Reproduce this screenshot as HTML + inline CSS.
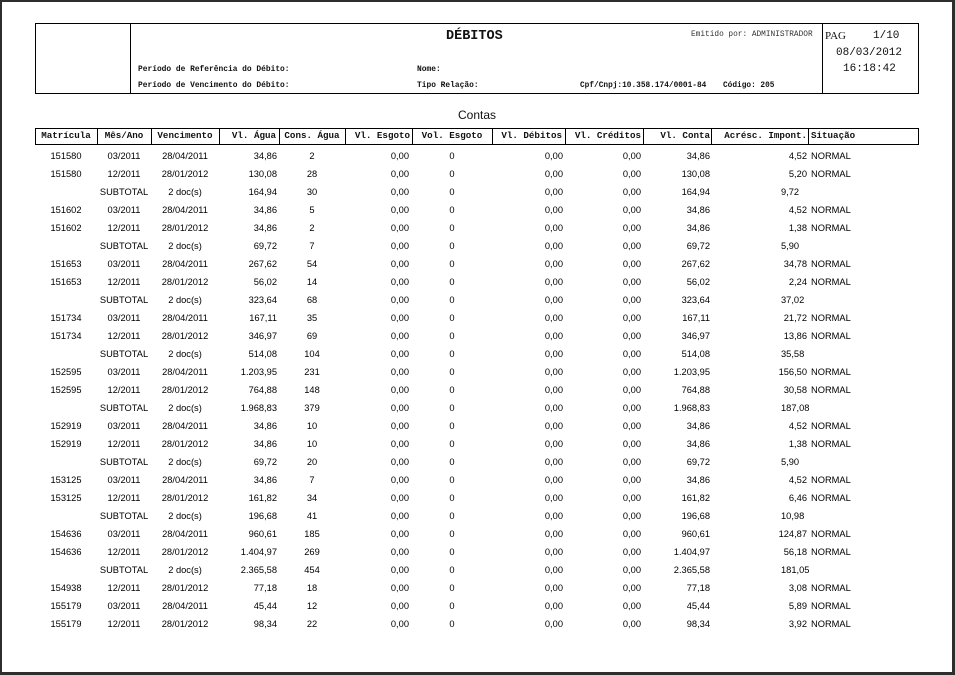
<!DOCTYPE html>
<html><head><meta charset="utf-8">
<style>
html,body{margin:0;padding:0}
body{width:955px;height:675px;background:#2e2e2e;position:relative;overflow:hidden}
#pg{position:absolute;left:2px;top:2px;width:950px;height:670px;background:#fff}
.a{position:absolute;white-space:nowrap;line-height:12px;height:12px}
.m{font-family:"Liberation Mono",monospace;color:#111}
.b{font-weight:bold}
.ln{position:absolute;background:#000}
.r{position:absolute;left:0;width:955px;height:18px;line-height:18px;font-family:"Liberation Sans",sans-serif;font-size:9.3px;color:#000}
.r span{position:absolute;top:0;white-space:nowrap}
.h{position:absolute;left:0;width:955px;height:16px;line-height:16px;top:128px;font-family:"Liberation Mono",monospace;font-weight:bold;font-size:9.2px;color:#111}
.h span{position:absolute;top:0;white-space:nowrap}
.c1{left:35px;width:62px;text-align:center}
.c2{left:97px;width:54px;text-align:center}
.c3{left:151px;width:68px;text-align:center}
.c4{left:219px;width:58px;text-align:right}
.c5{left:279px;width:66px;text-align:center}
.c6{left:345px;width:64px;text-align:right}
.c7{left:412px;width:80px;text-align:center}
.c8{left:492px;width:71px;text-align:right}
.c9{left:565px;width:76px;text-align:right}
.c10{left:643px;width:67px;text-align:right}
.c11{left:711px;width:96px;text-align:right}
.c11s{left:781px}
.c12{left:811px}
</style></head><body>
<div id="pg"></div>

<!-- header box -->
<div class="ln" style="left:35px;top:23px;width:884px;height:1px"></div>
<div class="ln" style="left:35px;top:93px;width:884px;height:1px"></div>
<div class="ln" style="left:35px;top:23px;width:1px;height:71px"></div>
<div class="ln" style="left:918px;top:23px;width:1px;height:71px"></div>
<div class="ln" style="left:130px;top:23px;width:1px;height:71px"></div>
<div class="ln" style="left:822px;top:23px;width:1px;height:71px"></div>

<div class="a m b" style="left:446px;top:30px;font-size:13.5px;line-height:14px;height:14px">DÉBITOS</div>
<div class="a m" style="left:691px;top:29px;font-size:7.8px;color:#333">Emitido por: ADMINISTRADOR</div>
<div class="a m b" style="left:138px;top:64px;font-size:7.9px">Período de Referência do Débito:</div>
<div class="a m b" style="left:138px;top:80px;font-size:7.9px">Período de Vencimento do Débito:</div>
<div class="a m b" style="left:417px;top:64px;font-size:7.9px">Nome:</div>
<div class="a m b" style="left:417px;top:80px;font-size:7.9px">Tipo Relação:</div>
<div class="a m b" style="left:580px;top:80px;font-size:7.8px">Cpf/Cnpj:10.358.174/0001-84</div>
<div class="a m b" style="left:723px;top:80px;font-size:7.8px">Código: 205</div>
<div class="a" style="left:825px;top:30px;font-family:'Liberation Serif',serif;font-size:11px;color:#111">PAG</div>
<div class="a m" style="left:873px;top:30px;font-size:11px">1/10</div>
<div class="a m" style="left:836px;top:47px;font-size:11px">08/03/2012</div>
<div class="a m" style="left:843px;top:63px;font-size:11px">16:18:42</div>

<div class="a" style="left:458px;top:109px;font-family:'Liberation Sans',sans-serif;font-size:12px;color:#111">Contas</div>

<!-- table header -->
<div class="ln" style="left:35px;top:128px;width:884px;height:1px"></div>
<div class="ln" style="left:35px;top:144px;width:884px;height:1px"></div>
<div class="ln" style="left:35px;top:128px;width:1px;height:17px"></div>
<div class="ln" style="left:97px;top:128px;width:1px;height:17px"></div>
<div class="ln" style="left:151px;top:128px;width:1px;height:17px"></div>
<div class="ln" style="left:219px;top:128px;width:1px;height:17px"></div>
<div class="ln" style="left:279px;top:128px;width:1px;height:17px"></div>
<div class="ln" style="left:345px;top:128px;width:1px;height:17px"></div>
<div class="ln" style="left:412px;top:128px;width:1px;height:17px"></div>
<div class="ln" style="left:492px;top:128px;width:1px;height:17px"></div>
<div class="ln" style="left:565px;top:128px;width:1px;height:17px"></div>
<div class="ln" style="left:643px;top:128px;width:1px;height:17px"></div>
<div class="ln" style="left:711px;top:128px;width:1px;height:17px"></div>
<div class="ln" style="left:808px;top:128px;width:1px;height:17px"></div>
<div class="ln" style="left:918px;top:128px;width:1px;height:17px"></div>

<div class="h">
<span class="c1">Matrícula</span><span class="c2">Mês/Ano</span><span class="c3">Vencimento</span>
<span style="left:219px;width:57px;text-align:right">Vl. Água</span>
<span class="c5">Cons. Água</span>
<span style="left:345px;width:65px;text-align:right">Vl. Esgoto</span>
<span class="c7">Vol. Esgoto</span>
<span style="left:492px;width:70px;text-align:right">Vl. Débitos</span>
<span class="c9">Vl. Créditos</span>
<span class="c10">Vl. Conta</span>
<span class="c11">Acrésc. Impont.</span>
<span class="c12">Situação</span>
</div>

<div class="r" style="top:147px"><span class="c1">151580</span><span class="c2">03/2011</span><span class="c3">28/04/2011</span><span class="c4">34,86</span><span class="c5">2</span><span class="c6">0,00</span><span class="c7">0</span><span class="c8">0,00</span><span class="c9">0,00</span><span class="c10">34,86</span><span class="c11">4,52</span><span class="c12">NORMAL</span></div>
<div class="r" style="top:165px"><span class="c1">151580</span><span class="c2">12/2011</span><span class="c3">28/01/2012</span><span class="c4">130,08</span><span class="c5">28</span><span class="c6">0,00</span><span class="c7">0</span><span class="c8">0,00</span><span class="c9">0,00</span><span class="c10">130,08</span><span class="c11">5,20</span><span class="c12">NORMAL</span></div>
<div class="r" style="top:183px"><span class="c2">SUBTOTAL</span><span class="c3">2 doc(s)</span><span class="c4">164,94</span><span class="c5">30</span><span class="c6">0,00</span><span class="c7">0</span><span class="c8">0,00</span><span class="c9">0,00</span><span class="c10">164,94</span><span class="c11s">9,72</span></div>
<div class="r" style="top:201px"><span class="c1">151602</span><span class="c2">03/2011</span><span class="c3">28/04/2011</span><span class="c4">34,86</span><span class="c5">5</span><span class="c6">0,00</span><span class="c7">0</span><span class="c8">0,00</span><span class="c9">0,00</span><span class="c10">34,86</span><span class="c11">4,52</span><span class="c12">NORMAL</span></div>
<div class="r" style="top:219px"><span class="c1">151602</span><span class="c2">12/2011</span><span class="c3">28/01/2012</span><span class="c4">34,86</span><span class="c5">2</span><span class="c6">0,00</span><span class="c7">0</span><span class="c8">0,00</span><span class="c9">0,00</span><span class="c10">34,86</span><span class="c11">1,38</span><span class="c12">NORMAL</span></div>
<div class="r" style="top:237px"><span class="c2">SUBTOTAL</span><span class="c3">2 doc(s)</span><span class="c4">69,72</span><span class="c5">7</span><span class="c6">0,00</span><span class="c7">0</span><span class="c8">0,00</span><span class="c9">0,00</span><span class="c10">69,72</span><span class="c11s">5,90</span></div>
<div class="r" style="top:255px"><span class="c1">151653</span><span class="c2">03/2011</span><span class="c3">28/04/2011</span><span class="c4">267,62</span><span class="c5">54</span><span class="c6">0,00</span><span class="c7">0</span><span class="c8">0,00</span><span class="c9">0,00</span><span class="c10">267,62</span><span class="c11">34,78</span><span class="c12">NORMAL</span></div>
<div class="r" style="top:273px"><span class="c1">151653</span><span class="c2">12/2011</span><span class="c3">28/01/2012</span><span class="c4">56,02</span><span class="c5">14</span><span class="c6">0,00</span><span class="c7">0</span><span class="c8">0,00</span><span class="c9">0,00</span><span class="c10">56,02</span><span class="c11">2,24</span><span class="c12">NORMAL</span></div>
<div class="r" style="top:291px"><span class="c2">SUBTOTAL</span><span class="c3">2 doc(s)</span><span class="c4">323,64</span><span class="c5">68</span><span class="c6">0,00</span><span class="c7">0</span><span class="c8">0,00</span><span class="c9">0,00</span><span class="c10">323,64</span><span class="c11s">37,02</span></div>
<div class="r" style="top:309px"><span class="c1">151734</span><span class="c2">03/2011</span><span class="c3">28/04/2011</span><span class="c4">167,11</span><span class="c5">35</span><span class="c6">0,00</span><span class="c7">0</span><span class="c8">0,00</span><span class="c9">0,00</span><span class="c10">167,11</span><span class="c11">21,72</span><span class="c12">NORMAL</span></div>
<div class="r" style="top:327px"><span class="c1">151734</span><span class="c2">12/2011</span><span class="c3">28/01/2012</span><span class="c4">346,97</span><span class="c5">69</span><span class="c6">0,00</span><span class="c7">0</span><span class="c8">0,00</span><span class="c9">0,00</span><span class="c10">346,97</span><span class="c11">13,86</span><span class="c12">NORMAL</span></div>
<div class="r" style="top:345px"><span class="c2">SUBTOTAL</span><span class="c3">2 doc(s)</span><span class="c4">514,08</span><span class="c5">104</span><span class="c6">0,00</span><span class="c7">0</span><span class="c8">0,00</span><span class="c9">0,00</span><span class="c10">514,08</span><span class="c11s">35,58</span></div>
<div class="r" style="top:363px"><span class="c1">152595</span><span class="c2">03/2011</span><span class="c3">28/04/2011</span><span class="c4">1.203,95</span><span class="c5">231</span><span class="c6">0,00</span><span class="c7">0</span><span class="c8">0,00</span><span class="c9">0,00</span><span class="c10">1.203,95</span><span class="c11">156,50</span><span class="c12">NORMAL</span></div>
<div class="r" style="top:381px"><span class="c1">152595</span><span class="c2">12/2011</span><span class="c3">28/01/2012</span><span class="c4">764,88</span><span class="c5">148</span><span class="c6">0,00</span><span class="c7">0</span><span class="c8">0,00</span><span class="c9">0,00</span><span class="c10">764,88</span><span class="c11">30,58</span><span class="c12">NORMAL</span></div>
<div class="r" style="top:399px"><span class="c2">SUBTOTAL</span><span class="c3">2 doc(s)</span><span class="c4">1.968,83</span><span class="c5">379</span><span class="c6">0,00</span><span class="c7">0</span><span class="c8">0,00</span><span class="c9">0,00</span><span class="c10">1.968,83</span><span class="c11s">187,08</span></div>
<div class="r" style="top:417px"><span class="c1">152919</span><span class="c2">03/2011</span><span class="c3">28/04/2011</span><span class="c4">34,86</span><span class="c5">10</span><span class="c6">0,00</span><span class="c7">0</span><span class="c8">0,00</span><span class="c9">0,00</span><span class="c10">34,86</span><span class="c11">4,52</span><span class="c12">NORMAL</span></div>
<div class="r" style="top:435px"><span class="c1">152919</span><span class="c2">12/2011</span><span class="c3">28/01/2012</span><span class="c4">34,86</span><span class="c5">10</span><span class="c6">0,00</span><span class="c7">0</span><span class="c8">0,00</span><span class="c9">0,00</span><span class="c10">34,86</span><span class="c11">1,38</span><span class="c12">NORMAL</span></div>
<div class="r" style="top:453px"><span class="c2">SUBTOTAL</span><span class="c3">2 doc(s)</span><span class="c4">69,72</span><span class="c5">20</span><span class="c6">0,00</span><span class="c7">0</span><span class="c8">0,00</span><span class="c9">0,00</span><span class="c10">69,72</span><span class="c11s">5,90</span></div>
<div class="r" style="top:471px"><span class="c1">153125</span><span class="c2">03/2011</span><span class="c3">28/04/2011</span><span class="c4">34,86</span><span class="c5">7</span><span class="c6">0,00</span><span class="c7">0</span><span class="c8">0,00</span><span class="c9">0,00</span><span class="c10">34,86</span><span class="c11">4,52</span><span class="c12">NORMAL</span></div>
<div class="r" style="top:489px"><span class="c1">153125</span><span class="c2">12/2011</span><span class="c3">28/01/2012</span><span class="c4">161,82</span><span class="c5">34</span><span class="c6">0,00</span><span class="c7">0</span><span class="c8">0,00</span><span class="c9">0,00</span><span class="c10">161,82</span><span class="c11">6,46</span><span class="c12">NORMAL</span></div>
<div class="r" style="top:507px"><span class="c2">SUBTOTAL</span><span class="c3">2 doc(s)</span><span class="c4">196,68</span><span class="c5">41</span><span class="c6">0,00</span><span class="c7">0</span><span class="c8">0,00</span><span class="c9">0,00</span><span class="c10">196,68</span><span class="c11s">10,98</span></div>
<div class="r" style="top:525px"><span class="c1">154636</span><span class="c2">03/2011</span><span class="c3">28/04/2011</span><span class="c4">960,61</span><span class="c5">185</span><span class="c6">0,00</span><span class="c7">0</span><span class="c8">0,00</span><span class="c9">0,00</span><span class="c10">960,61</span><span class="c11">124,87</span><span class="c12">NORMAL</span></div>
<div class="r" style="top:543px"><span class="c1">154636</span><span class="c2">12/2011</span><span class="c3">28/01/2012</span><span class="c4">1.404,97</span><span class="c5">269</span><span class="c6">0,00</span><span class="c7">0</span><span class="c8">0,00</span><span class="c9">0,00</span><span class="c10">1.404,97</span><span class="c11">56,18</span><span class="c12">NORMAL</span></div>
<div class="r" style="top:561px"><span class="c2">SUBTOTAL</span><span class="c3">2 doc(s)</span><span class="c4">2.365,58</span><span class="c5">454</span><span class="c6">0,00</span><span class="c7">0</span><span class="c8">0,00</span><span class="c9">0,00</span><span class="c10">2.365,58</span><span class="c11s">181,05</span></div>
<div class="r" style="top:579px"><span class="c1">154938</span><span class="c2">12/2011</span><span class="c3">28/01/2012</span><span class="c4">77,18</span><span class="c5">18</span><span class="c6">0,00</span><span class="c7">0</span><span class="c8">0,00</span><span class="c9">0,00</span><span class="c10">77,18</span><span class="c11">3,08</span><span class="c12">NORMAL</span></div>
<div class="r" style="top:597px"><span class="c1">155179</span><span class="c2">03/2011</span><span class="c3">28/04/2011</span><span class="c4">45,44</span><span class="c5">12</span><span class="c6">0,00</span><span class="c7">0</span><span class="c8">0,00</span><span class="c9">0,00</span><span class="c10">45,44</span><span class="c11">5,89</span><span class="c12">NORMAL</span></div>
<div class="r" style="top:615px"><span class="c1">155179</span><span class="c2">12/2011</span><span class="c3">28/01/2012</span><span class="c4">98,34</span><span class="c5">22</span><span class="c6">0,00</span><span class="c7">0</span><span class="c8">0,00</span><span class="c9">0,00</span><span class="c10">98,34</span><span class="c11">3,92</span><span class="c12">NORMAL</span></div>
</body></html>
